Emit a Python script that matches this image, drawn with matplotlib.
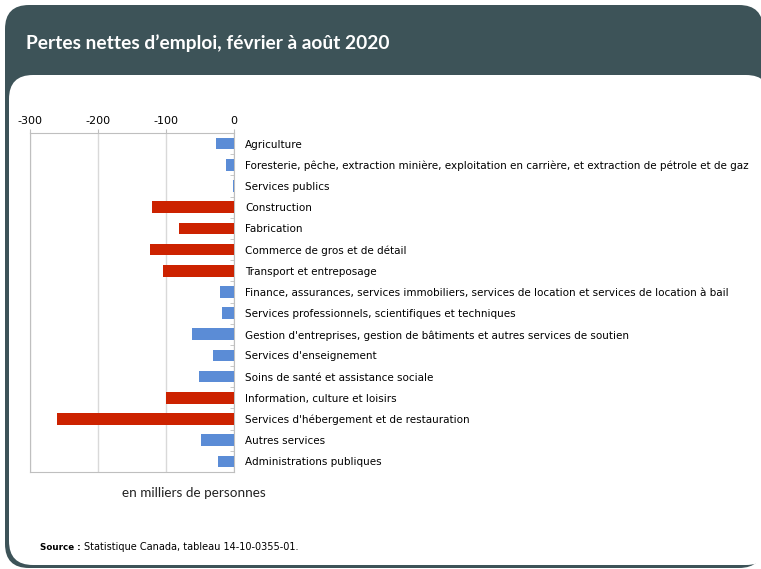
import matplotlib
matplotlib.use('Agg')
import matplotlib.pyplot as plt
import matplotlib.patches as mpatches
import numpy as np

plt.rcParams['axes.unicode_minus'] = False

categories = [
    'Agriculture',
    'Foresterie, pêche, extraction minière, exploitation en carrière, et extraction de pétrole et de gaz',
    'Services publics',
    'Construction',
    'Fabrication',
    'Commerce de gros et de détail',
    'Transport et entreposage',
    'Finance, assurances, services immobiliers, services de location et services de location à bail',
    'Services professionnels, scientifiques et techniques',
    "Gestion d'entreprises, gestion de bâtiments et autres services de soutien",
    "Services d'enseignement",
    'Soins de santé et assistance sociale',
    'Information, culture et loisirs',
    "Services d'hébergement et de restauration",
    'Autres services',
    'Administrations publiques',
]
values = [-27, -12, -1, -121, -81, -124, -105, -21, -18, -62, -31, -52, -100, -260, -48, -24]
highlight = [False, False, False, True, True, True, True, False,
             False, False, False, False, True, True, False, False]
xticks = [-300, -200, -100, 0]

W, H = 761, 569
fig = plt.figure(figsize=(W / 100, H / 100), dpi=100)

# background card (pixel coordinates)
bg = fig.add_axes([0, 0, 1, 1])
bg.set_xlim(0, W)
bg.set_ylim(H, 0)
bg.axis('off')
dark = '#3d5358'
r = 24
bg.add_patch(mpatches.FancyBboxPatch((5 + r, 5 + r), 763 - 5 - 2 * r, 563 - 2 * r,
             boxstyle='round,pad=%d' % r, fc=dark, ec='none'))
bg.add_patch(mpatches.FancyBboxPatch((9 + r, 75 + r), 770 - 9 - 2 * r, 490 - 2 * r,
             boxstyle='round,pad=%d' % r, fc='white', ec='none'))
bg.text(26, 43, 'Pertes nettes d\u2019emploi, février à août 2020', color='white',
        fontsize=13.8, fontweight='bold', family='Lato', va='center', ha='left')
bg.text(194, 493, 'en milliers de personnes', fontsize=9.7, family='Lato',
        ha='center', va='center', color='#222222')
bg.text(40, 547, 'Source :', fontsize=6.3, fontweight='bold', family='DejaVu Sans',
        ha='left', va='center', color='black')
bg.text(84, 547, 'Statistique Canada, tableau 14-10-0355-01.', fontsize=7,
        family='Liberation Sans Narrow', ha='left', va='center', color='black')

# chart
ax = fig.add_axes([30 / W, 1 - 472 / H, 204 / W, 339 / H])
y = np.arange(len(categories))
colors = ['#cc2200' if h else '#5b8cd6' for h in highlight]
ax.barh(y, values, height=0.55, color=colors, zorder=3)
ax.set_xlim(-300, 0)
ax.set_ylim(len(categories) - 0.5, -0.5)
ax.set_xticks(xticks)
ax.xaxis.tick_top()
ax.tick_params(axis='x', length=3, color='#bfbfbf', labelsize=8, pad=2,
               labelcolor='black')
ax.grid(axis='x', color='#d9d9d9', lw=1, zorder=0)
for s in ax.spines.values():
    s.set_color('#bfbfbf')
ax.set_yticks(y)
ax.set_yticklabels(categories, fontsize=7.5)
ax.yaxis.tick_right()
ax.tick_params(axis='y', which='major', length=0, pad=8)
ax.set_yticks(np.arange(len(categories) + 1) - 0.5, minor=True)
ax.tick_params(axis='y', which='minor', direction='in', length=3, color='#bfbfbf',
               right=True, left=False)

plt.savefig('out.png', dpi=100)
